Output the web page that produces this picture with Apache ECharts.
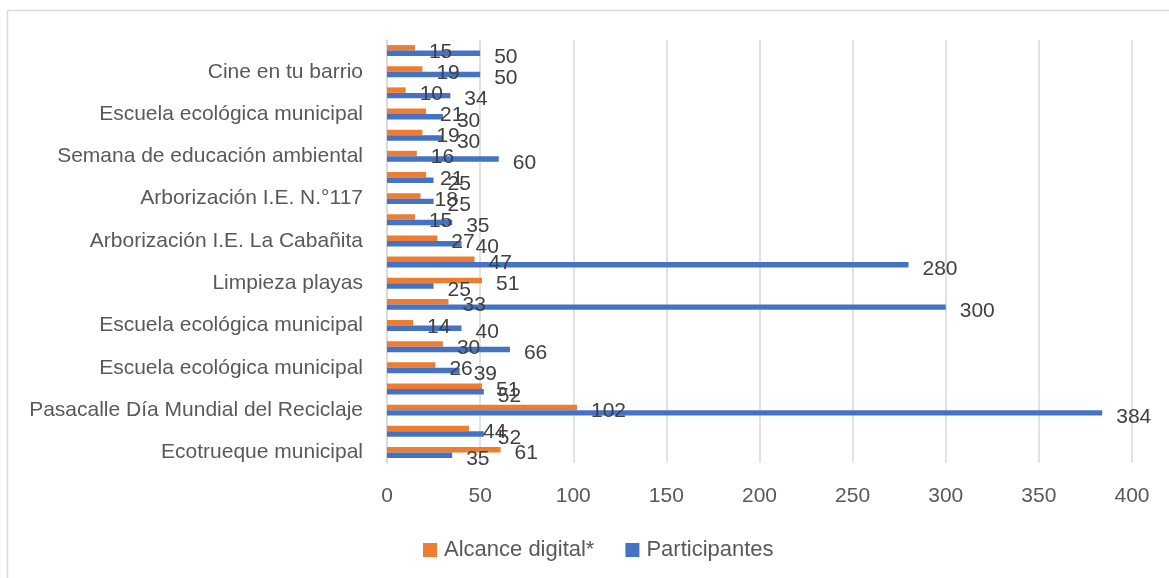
<!DOCTYPE html>
<html>
<head>
<meta charset="utf-8">
<style>
  html, body { margin: 0; padding: 0; background: #fff; }
  #chart { width: 1169px; height: 578px; }
</style>
<script src="https://cdn.jsdelivr.net/npm/echarts@6/dist/echarts.min.js"></script>
</head>
<body>
<div id="chart"></div>
<script>
  // categories bottom -> top, every second one is shown on the axis
  const categories = [
    'Ecotrueque municipal', 'Ecotrueque municipal ',
    'Pasacalle Día Mundial del Reciclaje', 'Pasacalle Día Mundial del Reciclaje ',
    'Escuela ecológica municipal', 'Escuela ecológica municipal ',
    'Escuela ecológica municipal  ', 'Escuela ecológica municipal   ',
    'Limpieza playas', 'Limpieza playas ',
    'Arborización I.E. La Cabañita', 'Arborización I.E. La Cabañita ',
    'Arborización I.E. N.°117', 'Arborización I.E. N.°117 ',
    'Semana de educación ambiental', 'Semana de educación ambiental ',
    'Escuela ecológica municipal    ', 'Escuela ecológica municipal     ',
    'Cine en tu barrio', 'Cine en tu barrio '
  ]
  const alcanceDigital = [61, 44, 102, 51, 26, 30, 14, 33, 51, 47, 27, 15, 18, 21, 16, 19, 21, 10, 19, 15]
  const participantes = [35, 52, 384, 52, 39, 66, 40, 300, 25, 280, 40, 35, 25, 25, 60, 30, 30, 34, 50, 50]
  const xTicks = { min: 0, max: 400, interval: 50 }

  const font = 'Liberation Sans'
  const chart = echarts.init(document.getElementById('chart'))

  const labelStyle = {
    show: true,
    position: 'right',
    distance: 14,
    offset: [0, 4],
    color: '#404040',
    fontSize: 21,
    fontFamily: font
  }

  chart.setOption({
    animation: false,
    textStyle: { fontFamily: font },
    graphic: [
      {
        type: 'rect',
        shape: { x: 7.5, y: 10.5, width: 1180, height: 600 },
        style: { fill: 'none', stroke: '#d9d9d9', lineWidth: 1.5 },
        silent: true
      }
    ],
    grid: { left: 387, right: 37, top: 40, bottom: 115 },
    legend: {
      top: 534,
      left: 418,
      itemWidth: 14,
      itemHeight: 14,
      itemGap: 31,
      icon: 'rect',
      textStyle: { color: '#595959', fontSize: 22, fontFamily: font, padding: [0, 0, 0, 2] },
      data: ['Alcance digital*', 'Participantes']
    },
    xAxis: {
      type: 'value',
      min: xTicks.min,
      max: xTicks.max,
      interval: xTicks.interval,
      axisLine: { show: false },
      axisTick: { show: false },
      splitLine: { lineStyle: { color: '#d9d9d9', width: 1.5 } },
      axisLabel: { color: '#595959', fontSize: 21, fontFamily: font, margin: 23 }
    },
    yAxis: {
      type: 'category',
      data: categories,
      axisLine: { show: true, lineStyle: { color: '#d9d9d9', width: 1.5 } },
      axisTick: { show: false },
      axisLabel: {
        interval: 1,
        color: '#595959',
        fontSize: 21,
        fontFamily: font,
        margin: 24,
        formatter: (v) => v.trim()
      }
    },
    series: [
      {
        name: 'Alcance digital*',
        type: 'bar',
        data: alcanceDigital,
        barGap: '0%',
        barCategoryGap: '48%',
        itemStyle: { color: '#ED7D31' },
        label: labelStyle
      },
      {
        name: 'Participantes',
        type: 'bar',
        data: participantes,
        barGap: '0%',
        barCategoryGap: '48%',
        itemStyle: { color: '#4472C4' },
        label: labelStyle
      }
    ]
  })
</script>
</body>
</html>
